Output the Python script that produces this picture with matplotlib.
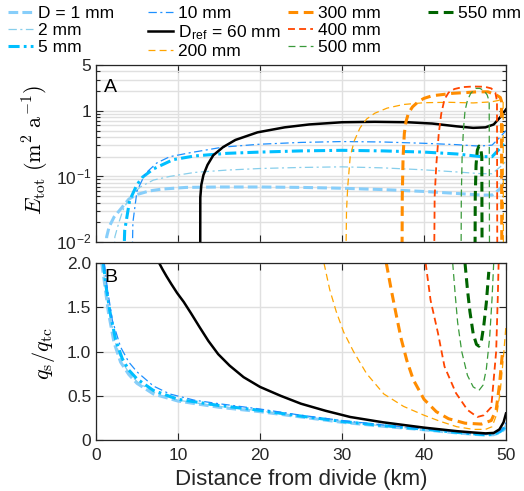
import matplotlib
matplotlib.use('Agg')
import matplotlib.pyplot as plt
from matplotlib.ticker import FixedLocator, LogLocator, NullFormatter, FixedFormatter

plt.rcParams['font.family'] = ['Liberation Sans', 'DejaVu Sans']
plt.rcParams['mathtext.fontset'] = 'cm'
plt.rcParams['lines.scale_dashes'] = False

# ---------------- data ----------------
labels = ['D = 1 mm', '2 mm', '5 mm', '10 mm', 'D$_{\\mathregular{ref}}$ = 60 mm',
          '200 mm', '300 mm', '400 mm', '500 mm', '550 mm']

# Panel A: E_tot (m^2/a), x in km
a1_x = [1.1, 1.3, 1.6, 2.2, 3.2, 4.0, 5.0, 6.5, 8, 11, 15, 20, 25, 30, 35, 40, 44, 47, 48.3, 49.3, 50]
a1_y = [0.001, 0.012, 0.017, 0.024, 0.034, 0.045, 0.053, 0.06, 0.064, 0.068, 0.069, 0.069, 0.068, 0.066, 0.063, 0.059, 0.055, 0.052, 0.052, 0.065, 0.088]
a2_x = [2.0, 2.3, 2.8, 3.3, 4.2, 5.4, 7, 9, 12, 16, 20, 25, 30, 35, 40, 44, 47, 48.3, 49.3, 50]
a2_y = [0.001, 0.012, 0.02, 0.031, 0.05, 0.069, 0.088, 0.10, 0.115, 0.125, 0.132, 0.137, 0.14, 0.135, 0.126, 0.117, 0.11, 0.11, 0.14, 0.17]
a5_x = [3.2, 3.5, 4.1, 5.0, 5.7, 7, 9.4, 12, 16, 20, 25, 30, 35, 40, 44, 47, 48.3, 49.3, 50]
a5_y = [0.001, 0.015, 0.043, 0.075, 0.098, 0.13, 0.18, 0.205, 0.225, 0.235, 0.245, 0.25, 0.245, 0.235, 0.22, 0.2, 0.2, 0.27, 0.36]
a10_x = [4.3, 4.5, 5.0, 6, 7.4, 9, 11.5, 15.5, 20, 25, 30, 35, 40, 44, 46.7, 48.3, 49.3, 50]
a10_y = [0.001, 0.02, 0.06, 0.11, 0.16, 0.2, 0.23, 0.28, 0.31, 0.33, 0.34, 0.335, 0.32, 0.305, 0.29, 0.3, 0.4, 0.5]
a60_x = [12.7, 12.72, 12.85, 13.1, 13.6, 14.3, 15.5, 17, 19.7, 23, 26, 30, 34, 38, 41, 44, 46, 47.5, 48.5, 49.3, 50]
a60_y = [0.001, 0.048, 0.075, 0.105, 0.15, 0.21, 0.28, 0.36, 0.47, 0.56, 0.62, 0.67, 0.68, 0.67, 0.64, 0.58, 0.55, 0.56, 0.62, 0.8, 1.05]
a200_x = [30.4, 30.55, 30.7, 31.0, 31.5, 32.2, 33.0, 34.0, 35.5, 37.5, 40, 43, 46, 48.2, 49.2, 49.65, 49.7]
a200_y = [0.001, 0.03, 0.07, 0.2, 0.35, 0.55, 0.75, 0.92, 1.1, 1.25, 1.33, 1.35, 1.32, 1.37, 1.45, 1.4, 0.001]
a300_x = [37.3, 37.35, 37.45, 37.6, 37.8, 38.1, 38.6, 39.3, 40, 41, 42.4, 43.5, 45.1, 46.5, 47.8, 48.8, 49.3, 49.45, 49.5]
a300_y = [0.001, 0.05, 0.2, 0.45, 0.68, 0.92, 1.15, 1.38, 1.55, 1.7, 1.78, 1.85, 1.9, 1.95, 1.95, 1.75, 1.6, 1.4, 0.001]
a400_x = [41.2, 41.3, 41.5, 41.8, 42.1, 42.5, 43.0, 43.7, 44.7, 46.0, 47.4, 48.2, 48.7, 48.9, 48.95]
a400_y = [0.001, 0.05, 0.15, 0.45, 0.9, 1.5, 1.9, 2.15, 2.3, 2.35, 2.33, 2.2, 1.9, 1.4, 0.001]
a500_x = [44.5, 44.55, 44.65, 44.8, 45.0, 45.3, 45.7, 46.3, 46.8, 47.3, 47.7, 47.95, 48.0]
a500_y = [0.001, 0.05, 0.2, 0.5, 1.0, 1.45, 1.85, 2.2, 2.2, 2.05, 1.75, 1.4, 0.001]
a550_x = [46.2, 46.25, 46.35, 46.5, 46.7, 46.9, 47.05, 47.1]
a550_y = [0.001, 0.05, 0.15, 0.25, 0.29, 0.28, 0.2, 0.001]

# Panel B: q_s / q_tc
b1_x = [0.7, 1.0, 1.5, 2.2, 3.0, 4, 5, 7, 10, 15, 20, 25, 30, 35, 40, 44, 46, 47.5, 48.5, 49.3, 49.8, 50]
b1_y = [2.0, 1.8, 1.45, 1.1, 0.88, 0.74, 0.64, 0.52, 0.44, 0.37, 0.32, 0.26, 0.2, 0.155, 0.115, 0.08, 0.065, 0.055, 0.06, 0.085, 0.12, 0.16]
b2_x = [0.8, 1.1, 1.6, 2.3, 3.1, 4, 5, 7, 10, 15, 20, 25, 30, 35, 40, 44, 46, 47.5, 48.5, 49.3, 49.8, 50]
b2_y = [2.0, 1.78, 1.45, 1.12, 0.9, 0.76, 0.66, 0.54, 0.45, 0.38, 0.33, 0.265, 0.205, 0.16, 0.12, 0.083, 0.068, 0.058, 0.063, 0.09, 0.13, 0.17]
b5_x = [0.9, 1.2, 1.7, 2.4, 3.2, 4, 5, 7, 10, 15, 20, 25, 30, 35, 40, 44, 46, 47.5, 48.5, 49.3, 49.8, 50]
b5_y = [2.0, 1.75, 1.45, 1.13, 0.92, 0.79, 0.69, 0.56, 0.46, 0.39, 0.335, 0.27, 0.21, 0.163, 0.122, 0.086, 0.07, 0.06, 0.065, 0.095, 0.14, 0.18]
b10_x = [1.0, 1.4, 2.0, 3.0, 4, 5, 7, 9, 12, 15, 20, 25, 30, 35, 40, 44, 46, 47.5, 48.5, 49.3, 49.8, 50]
b10_y = [2.0, 1.7, 1.35, 1.05, 0.88, 0.77, 0.61, 0.52, 0.45, 0.41, 0.35, 0.28, 0.22, 0.17, 0.128, 0.09, 0.074, 0.064, 0.07, 0.1, 0.15, 0.2]
b60_x = [7.7, 8.1, 8.6, 9.2, 9.9, 10.7, 11.6, 12.6, 13.7, 14.9, 16.3, 18, 20, 22.5, 25, 28, 31, 35, 40, 44, 46, 47.5, 48.5, 49.2, 49.7, 50]
b60_y = [2.0, 1.93, 1.85, 1.76, 1.66, 1.56, 1.43, 1.28, 1.12, 0.97, 0.84, 0.71, 0.6, 0.5, 0.41, 0.33, 0.26, 0.2, 0.14, 0.1, 0.085, 0.075, 0.08, 0.12, 0.2, 0.3]
b200_x = [27.8, 28.5, 29.3, 30.2, 31.4, 33, 35.1, 37.5, 40, 42, 44, 46, 47.5, 48.3, 48.9, 49.3, 49.7, 50]
b200_y = [2.0, 1.7, 1.45, 1.22, 1.0, 0.75, 0.52, 0.38, 0.28, 0.21, 0.15, 0.12, 0.12, 0.15, 0.3, 0.55, 0.95, 1.3]
b300_x = [35.4, 36.0, 36.6, 37.2, 37.9, 38.7, 40, 41.5, 43, 45, 47, 48.2, 48.8, 49.2, 49.6]
b300_y = [2.0, 1.7, 1.42, 1.15, 0.9, 0.68, 0.46, 0.32, 0.24, 0.19, 0.18, 0.22, 0.34, 0.62, 1.02]
b400_x = [40.2, 40.8, 41.7, 42.5, 43.9, 45.3, 46.5, 47.3, 48.2, 48.8, 49.0, 49.1]
b400_y = [2.0, 1.58, 1.21, 0.83, 0.53, 0.34, 0.26, 0.28, 0.37, 1.0, 1.62, 2.0]
b500_x = [43.5, 43.8, 44.1, 44.6, 45.3, 46.0, 46.7, 47.2, 47.6, 48.0, 48.3, 48.5]
b500_y = [2.0, 1.65, 1.33, 1.0, 0.73, 0.6, 0.56, 0.62, 0.8, 1.15, 1.6, 2.0]
b550_x = [45.0, 45.3, 45.6, 46.0, 46.4, 46.7, 47.0, 47.3, 47.6, 47.9]
b550_y = [2.0, 1.7, 1.45, 1.2, 1.08, 1.06, 1.12, 1.3, 1.55, 1.9]

series_A = [(a1_x, a1_y), (a2_x, a2_y), (a5_x, a5_y), (a10_x, a10_y), (a60_x, a60_y),
            (a200_x, a200_y), (a300_x, a300_y), (a400_x, a400_y), (a500_x, a500_y), (a550_x, a550_y)]
series_B = [(b1_x, b1_y), (b2_x, b2_y), (b5_x, b5_y), (b10_x, b10_y), (b60_x, b60_y),
            (b200_x, b200_y), (b300_x, b300_y), (b400_x, b400_y), (b500_x, b500_y), (b550_x, b550_y)]

x_ticks = [0, 10, 20, 30, 40, 50]
a_yticks = [0.01, 0.1, 1, 5]
a_yticklabels = ['10$^{\\mathregular{-2}}$', '10$^{\\mathregular{-1}}$', '1', '5']
b_yticks = [0, 0.5, 1.0, 1.5, 2.0]
b_yticklabels = ['0', '0.5', '1.0', '1.5', '2.0']

# ---------------- styles ----------------
DD = (6, 2.5, 1.5, 2.5)
styles = [
    dict(color='#87CEFA', lw=2.2, dashes=(7, 3)),
    dict(color='#87CEEB', lw=0.9, dashes=DD),
    dict(color='#00BFFF', lw=2.2, dashes=(8, 3, 2, 3)),
    dict(color='#1E90FF', lw=0.9, dashes=DD),
    dict(color='black', lw=1.8, linestyle='-'),
    dict(color='#FFA500', lw=0.9, dashes=(5, 3)),
    dict(color='#FF8C00', lw=2.2, dashes=(7, 4)),
    dict(color='#FF4500', lw=1.3, dashes=(5, 3)),
    dict(color='#3A9A3A', lw=0.9, dashes=(5, 3)),
    dict(color='#006400', lw=2.2, dashes=(7, 4)),
]

W, H = 524, 491
fig = plt.figure(figsize=(W / 100, H / 100), dpi=100)
axA = fig.add_axes([96 / W, 1 - 242 / H, 410 / W, 177 / H])
axB = fig.add_axes([96 / W, 1 - 440 / H, 410 / W, 177 / H])

GRID = '#E0E0E0'
SPINE = '#262626'

handles = []
for (x, y), st in zip(series_A, styles):
    ln, = axA.plot(x, y, **st)
    handles.append(ln)
for (x, y), st in zip(series_B, styles):
    axB.plot(x, y, **st)

for ax in (axA, axB):
    ax.set_xlim(0, 50)
    ax.xaxis.set_major_locator(FixedLocator(x_ticks))
    ax.tick_params(which='both', direction='in', top=True, right=True,
                   colors=SPINE, labelsize=12.5, width=0.8)
    ax.tick_params(which='major', length=5)
    ax.tick_params(which='minor', length=3)
    ax.tick_params(axis='x', pad=6)
    for sp in ax.spines.values():
        sp.set_color(SPINE)
        sp.set_linewidth(0.9)
    ax.set_axisbelow(True)
    ax.grid(True, which='major', color=GRID, lw=1.0)

axA.set_yscale('log')
axA.set_ylim(0.01, 5)
axA.yaxis.set_major_locator(FixedLocator(a_yticks))
axA.yaxis.set_major_formatter(FixedFormatter(a_yticklabels))
axA.yaxis.set_minor_locator(LogLocator(base=10, subs=[2, 3, 4, 5, 6, 7, 8, 9]))
axA.yaxis.set_minor_formatter(NullFormatter())
axA.grid(True, which='minor', axis='y', color=GRID, lw=1.0)
axA.tick_params(axis='x', labelbottom=False)
axA.set_ylabel(r'$E_{\mathrm{tot}}\ (\mathrm{m}^2\ \mathrm{a}^{-1})$', fontsize=16)
axA.yaxis.set_label_coords(-0.11, 0.52)
axA.text(0.02, 0.873, 'A', transform=axA.transAxes, fontsize=14, va='center', ha='left')

axB.set_ylim(0, 2)
axB.yaxis.set_major_locator(FixedLocator(b_yticks))
axB.yaxis.set_major_formatter(FixedFormatter(b_yticklabels))
axB.set_xlabel('Distance from divide (km)', fontsize=16, color=SPINE, labelpad=4)
axB.set_ylabel(r'$q_{\mathrm{s}}/q_{\mathrm{tc}}$', fontsize=16)
axB.yaxis.set_label_coords(-0.095, 0.49)
axB.text(0.02, 0.92, 'B', transform=axB.transAxes, fontsize=14, va='center', ha='left')

# legend: 4 columns placed individually
col_groups = [[0, 1, 2], [3, 4, 5], [6, 7, 8], [9]]
col_x = [8, 148, 288, 428]
for grp, cx in zip(col_groups, col_x):
    fig.legend([handles[i] for i in grp], [labels[i] for i in grp],
               loc='upper left', bbox_to_anchor=(cx / W, 1 - 6 / H),
               frameon=False, fontsize=12.5, handlelength=1.45,
               handletextpad=0.3, labelspacing=0.1, borderpad=0,
               borderaxespad=0)

fig.savefig('out.png', dpi=100)
